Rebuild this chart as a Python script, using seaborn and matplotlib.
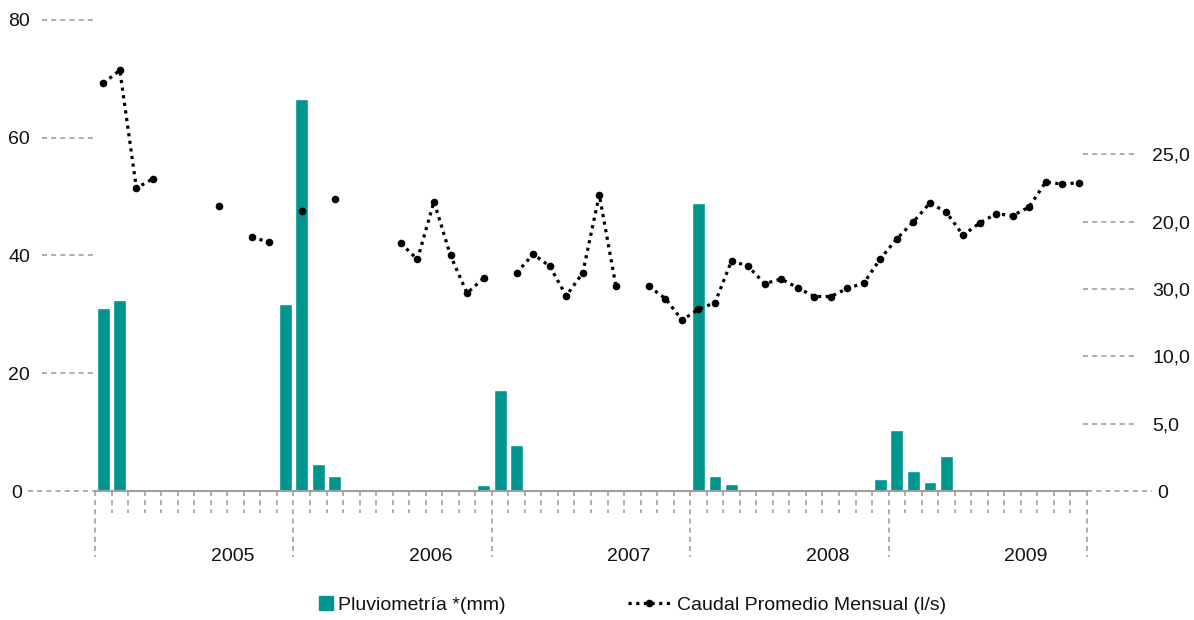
import numpy as np
import pandas as pd
import matplotlib
matplotlib.use("Agg")
import matplotlib.pyplot as plt
from matplotlib.lines import Line2D
import seaborn as sns

years = ["2005", "2006", "2007", "2008", "2009"]
months = list(range(60))

# Pluviometría (mm), one value per month
rain = [31.1, 32.4, 0, 0, 0, 0, 0, 0, 0, 0, 0, 31.8,
        66.6, 4.6, 2.5, 0, 0, 0, 0, 0, 0, 0, 0, 1.0,
        17.1, 7.8, 0, 0, 0, 0, 0, 0, 0, 0, 0, 0,
        48.9, 2.5, 1.2, 0, 0, 0, 0, 0, 0, 0, 0, 2.0,
        10.4, 3.4, 1.5, 5.9, 0, 0, 0, 0, 0, 0, 0, 0]

# Caudal promedio mensual (l/s), nan = sin dato
nan = np.nan
flow = [30.3, 31.25, 22.5, 23.2, nan, nan, nan, 21.15, nan, 18.85, 18.5, nan,
        20.8, nan, 21.7, nan, nan, nan, 18.4, 17.2, 21.5, 17.5, 14.7, 15.8,
        nan, 16.2, 17.6, 16.7, 14.5, 16.2, 22.0, 15.25, nan, 15.2, 14.3, 12.7,
        13.5, 14.0, 17.1, 16.7, 15.4, 15.75, 15.1, 14.45, 14.45, 15.05, 15.45, 17.25,
        18.75, 20.0, 21.4, 20.7, 19.0, 19.9, 20.6, 20.45, 21.1, 22.95, 22.8, 22.9]

left_ticks = [0, 20, 40, 60, 80]
right_ticks = [0, 5, 10, 15, 20, 25]
right_labels = ["0", "5,0", "10,0", "30,0", "20,0", "25,0"]

teal = "#009690"
grey = "#a0a0a0"
ink = "#111111"
dash = (0, (3, 2.5))
fs = 14

sns.set_style("white")
plt.rcParams["font.family"] = ["Liberation Sans Narrow", "Liberation Sans", "DejaVu Sans"]
plt.rcParams["font.size"] = fs
plt.rcParams["text.color"] = ink
plt.rcParams["ytick.color"] = ink

df_rain = pd.DataFrame({"mes": months, "mm": rain})
df_flow = pd.DataFrame({"mes": months, "caudal": flow})
df_flow["tramo"] = df_flow["caudal"].isna().cumsum()
df_flow = df_flow.dropna()

fig, ax = plt.subplots(figsize=(11.94, 6.2), dpi=100)
fig.subplots_adjust(left=0.0796, right=0.9104, bottom=0.208, top=0.968)

sns.barplot(data=df_rain, x="mes", y="mm", color=teal, saturation=1,
            width=0.78, ax=ax, legend=False)

ax2 = ax.twinx()
sns.lineplot(data=df_flow, x="mes", y="caudal", units="tramo", estimator=None,
             color="black", linestyle=(0, (1, 1.4)), lw=2.3, marker="o",
             markersize=5.5, markeredgewidth=0, ax=ax2, legend=False)

ax.set_xlim(-0.5, 59.5)
ax.set_ylim(0, 80)
ax2.set_ylim(0, 35)
ax.set_xticks([])
ax.set_xlabel("")
ax.set_ylabel("")
ax2.set_ylabel("")

for a in (ax, ax2):
    for s in a.spines.values():
        s.set_visible(False)
ax.spines["bottom"].set_visible(True)
ax.spines["bottom"].set_color(grey)
ax.spines["bottom"].set_linewidth(1.5)

# left axis labels + dashed tick marks
ax.set_yticks(left_ticks)
ax.tick_params(axis="y", length=0, pad=46.8, labelsize=fs, labelcolor=ink)
ax.yaxis.get_major_ticks()[0].set_pad(52.6)
for v in left_ticks:
    x0 = -0.0675 if v == 0 else -0.0534
    ax.plot([x0, 0], [v, v], transform=ax.get_yaxis_transform(), color=grey,
            lw=1.2, linestyle=dash, clip_on=False)

# right axis labels + dashed tick marks
ax2.set_yticks(right_ticks)
ax2.set_yticklabels(right_labels)
ax2.tick_params(axis="y", length=0, pad=46.8, labelsize=fs, labelcolor=ink)
ax2.yaxis.get_major_ticks()[0].set_pad(50.4)
for v in right_ticks:
    x0, x1 = (1.0, 1.0655) if v == 0 else (0.996, 1.0514)
    ax2.plot([x0, x1], [v, v], transform=ax2.get_yaxis_transform(), color=grey,
             lw=1.2, linestyle=dash, clip_on=False)

# month ticks and year separators
xt = ax.get_xaxis_transform()
for i in range(61):
    y0 = -0.14 if i % 12 == 0 else -0.0467
    ax.plot([i - 0.5, i - 0.5], [0, y0], transform=xt, color=grey, lw=1.2,
            linestyle=dash, clip_on=False)
for k, yr in enumerate(years):
    ax.text(7.8 + 12 * k, -0.138, yr, transform=xt, ha="center", va="center",
            fontsize=fs)

# two one-entry legends so each handle can have its own size
h_rain = Line2D([], [], marker="s", color=teal, linestyle="none", markersize=9.5)
h_flow = Line2D([], [], color="black", linestyle=(0, (1, 1.4)), lw=2.3,
                marker="o", markersize=5.5, markeredgewidth=0)
fig.legend([h_rain], ["Pluviometría *(mm)"], loc="center left",
           bbox_to_anchor=(0.267, 0.024), frameon=False, borderpad=0,
           borderaxespad=0, handlelength=0.7, handletextpad=0.28, fontsize=fs)
fig.legend([h_flow], ["Caudal Promedio Mensual (l/s)"], loc="center left",
           bbox_to_anchor=(0.526, 0.024), frameon=False, borderpad=0,
           borderaxespad=0, handlelength=2.16, handletextpad=0.36,
           numpoints=1, fontsize=fs)

fig.savefig("out.png", dpi=100)
